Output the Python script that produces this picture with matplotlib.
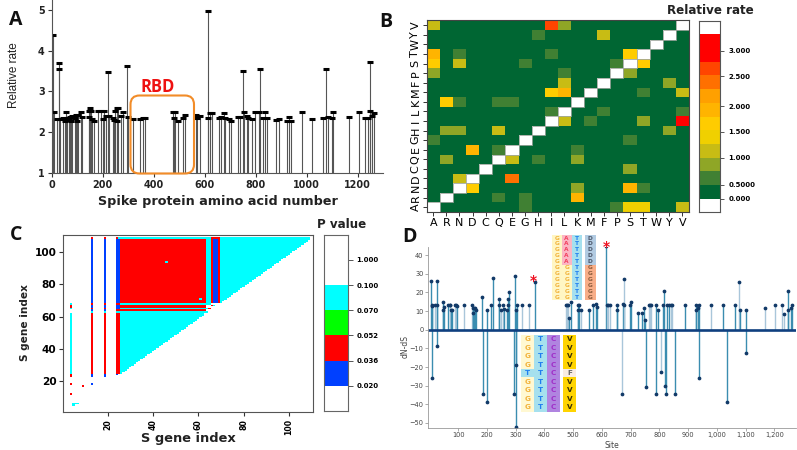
import numpy as np
import matplotlib
matplotlib.use('Agg')
import matplotlib.pyplot as plt
from matplotlib.colors import ListedColormap
from matplotlib.patches import FancyBboxPatch, Rectangle

W, H = 797, 450

# Panel A: site, relative rate
a_sites = [5, 8, 20, 28, 30, 32, 45, 52, 55, 60, 68, 72, 76, 80, 90, 95, 100, 105, 115, 120,
           145, 148, 152, 155, 158, 165, 180, 195, 200, 205, 212, 220, 225, 240, 245, 250, 255, 258, 262, 270,
           278, 296, 300, 320, 345, 358, 368, 475, 480, 485, 495, 515, 525, 565, 572, 580, 612, 614, 620, 630,
           655, 665, 675, 680, 695, 703, 730, 740, 752, 755, 765, 770, 785, 797, 815, 818, 830, 838, 845, 882,
           893, 925, 932, 938, 982, 1020, 1065, 1078, 1085, 1100, 1103, 1167, 1205, 1230, 1240, 1248, 1250, 1258, 1263]
a_rates = [4.38, 2.5, 2.33, 3.55, 3.71, 2.33, 2.35, 2.28, 2.5, 2.35, 2.3, 2.36, 2.28, 2.4, 2.35, 2.42, 2.28, 2.42, 2.5, 2.38,
           2.52, 2.37, 2.6, 2.52, 2.33, 2.28, 2.52, 2.52, 2.33, 2.52, 2.4, 3.49, 2.4, 2.35, 2.3, 2.52, 2.28, 2.6, 2.6, 2.4,
           2.5, 3.62, 2.37, 2.32, 2.33, 2.35, 2.35, 2.5, 2.35, 2.5, 2.28, 2.35, 2.43, 2.43, 2.35, 2.4, 2.35, 4.98, 2.48, 2.48,
           2.35, 2.37, 2.48, 2.35, 2.33, 2.28, 2.36, 2.36, 3.5, 2.5, 2.4, 2.35, 2.32, 2.5, 2.5, 3.54, 2.35, 2.5, 2.35, 2.3,
           2.33, 2.28, 2.38, 2.28, 2.5, 2.33, 2.35, 3.54, 2.37, 2.35, 2.5, 2.38, 2.5, 2.35, 2.35, 2.53, 3.72, 2.4, 2.48]

# Panel B: amino acids and non-background cells (row, column, colour level)
amino = ['A', 'R', 'N', 'D', 'C', 'Q', 'E', 'G', 'H', 'I', 'L', 'K', 'M', 'F', 'P', 'S', 'T', 'W', 'Y', 'V']
b_cells = [(19, 0, 3), (19, 9, 9), (19, 10, 2), (18, 8, 1), (18, 13, 3),
           (16, 0, 6), (16, 2, 1), (16, 9, 1), (16, 15, 5),
           (15, 0, 5), (15, 2, 3), (15, 7, 1), (15, 14, 1), (15, 16, 5),
           (14, 0, 2), (14, 10, 1), (14, 15, 2), (13, 10, 3), (13, 18, 2),
           (12, 9, 5), (12, 10, 6), (12, 16, 1), (12, 19, 3),
           (11, 1, 5), (11, 2, 1), (11, 5, 1), (11, 6, 1),
           (10, 9, 1), (10, 13, 1), (10, 19, 1),
           (9, 10, 3), (9, 12, 1), (9, 16, 2), (9, 19, 10),
           (8, 1, 2), (8, 2, 2), (8, 5, 3), (8, 18, 2),
           (7, 0, 1), (7, 15, 1), (6, 3, 6), (6, 5, 1), (6, 11, 1),
           (5, 1, 2), (5, 6, 3), (5, 8, 1), (5, 11, 2), (4, 15, 2),
           (3, 2, 3), (3, 6, 8), (2, 3, 5), (2, 11, 2), (2, 15, 6), (2, 16, 1),
           (1, 5, 1), (1, 7, 1), (1, 11, 6),
           (0, 7, 1), (0, 14, 1), (0, 15, 4), (0, 16, 4), (0, 19, 3)]
b_colors = ['#006633', '#408033', '#8fa626', '#c8bc14', '#f0d000', '#ffcc00',
            '#ffb400', '#ffa000', '#ff7000', '#ff4500', '#ff0000']
b_bar_levels = [-1, 0, 1, 2, 3, 4, 5, 6, 7, 8, 9, 10, 10, -1]
b_bar_ticks = [1, 2, 4, 5.87, 7.74, 9.93, 11.8]
b_bar_labels = ['0.000', '0.5000', '1.000', '1.500', '2.000', '2.500', '3.000']

# Panel C: blocks of P value classes (x from, x to, y from, y to, class)
# classes: 0 white, 1 blue, 2 red, 3 green, 4 cyan
c_blocks = [(4, 4, 25, 62, 4), (4, 4, 23, 24, 2), (4, 4, 65, 65, 4), (4, 4, 66, 67, 2), (4, 4, 68, 68, 4),
            (4, 4, 18, 18, 2), (4, 4, 12, 12, 2), (5, 5, 5, 6, 4), (6, 7, 6, 6, 4), (9, 9, 17, 17, 2), (13, 13, 18, 18, 1),
            (13, 13, 23, 24, 1), (13, 13, 25, 62, 2), (13, 13, 63, 63, 4), (13, 13, 64, 64, 1), (13, 13, 65, 65, 2),
            (13, 13, 66, 67, 1), (13, 13, 68, 68, 2), (13, 13, 69, 108, 1), (13, 13, 109, 109, 2),
            (19, 19, 23, 24, 1), (19, 19, 25, 62, 2), (19, 19, 63, 63, 4), (19, 19, 64, 64, 1), (19, 19, 65, 65, 2),
            (19, 19, 66, 67, 1), (19, 19, 68, 68, 2), (19, 19, 69, 108, 1), (19, 19, 109, 109, 2),
            (24, 24, 24, 24, 1), (24, 25, 25, 62, 2), (24, 25, 63, 63, 4), (24, 25, 64, 64, 2), (24, 25, 65, 65, 1),
            (24, 25, 66, 67, 1), (24, 25, 68, 68, 2), (24, 25, 69, 108, 1), (24, 24, 109, 109, 2), (25, 25, 109, 109, 4),
            (26, 63, 69, 108, 2), (26, 63, 109, 109, 4), (26, 65, 68, 68, 4), (26, 63, 66, 67, 2), (26, 64, 65, 65, 4),
            (26, 63, 64, 64, 2), (26, 64, 63, 63, 4), (64, 65, 69, 109, 4), (66, 66, 69, 108, 2), (67, 68, 69, 108, 1),
            (69, 69, 69, 108, 2), (66, 69, 109, 109, 2), (65, 65, 65, 65, 2), (66, 66, 67, 67, 2), (67, 67, 67, 67, 4),
            (46, 46, 94, 94, 4), (61, 61, 71, 71, 4)]
# triangles: only cells above the diagonal are filled
c_tris = [(26, 62, 25, 62, 4), (70, 109, 69, 109, 4)]
c_colors = ['#ffffff', '#0040ff', '#ff0000', '#00ff00', '#00ffff']
c_bar_levels = [0, 1, 2, 3, 4, 0, 0]
c_bar_labels = ['0.020', '0.036', '0.052', '0.070', '0.100', '1.000']

# Panel D: dN-dS per site
d_pos_sites = [5, 8, 10, 20, 25, 28, 47, 48, 52, 65, 70, 72, 75, 80, 88, 94, 97, 120, 147, 150, 152, 155, 158, 163,
               183, 200, 214, 222, 242, 243, 250, 255, 259, 270, 272, 273, 276, 297, 300, 306, 322, 347, 366,
               474, 478, 482, 484, 492, 517, 518, 521, 527, 556, 569, 578, 582, 613, 617, 622, 629, 651, 654,
               672, 675, 676, 698, 702, 727, 738, 747, 751, 762, 767, 771, 789, 794, 811, 816, 827, 834, 840, 845,
               890, 926, 927, 933, 938, 978, 1020, 1064, 1076, 1081, 1101, 1166, 1202, 1228, 1234, 1246, 1248, 1256, 1261]
d_pos_vals = [26, 12.5, 13, 13, 26, 13, 10.4, 14.7, 12.4, 13, 13, 13, 10.4, 10.4, 13, 13, 12.5, 13, 13, 11.5, 9, 11.5, 11.5, 10.4,
              17.8, 10.4, 13, 27.6, 16.4, 13, 10.4, 13, 11, 10.4, 16.4, 13, 20.4, 28.8, 10.4, 13, 13, 13, 25.7,
              13, 13, 13, 6.4, 14.7, 13, 10.4, 13, 10.4, 10.4, 13, 13.6, 12.2, 45, 13, 13, 13, 13, 10.4,
              13.6, 13, 27, 13, 14.7, 8.7, 8.7, 11.6, 5.2, 13, 13, 13, 13, 10.4, 13, 21, 13, 13, 13, 13,
              13, 10.4, 13, 11.5, 13, 13, 13, 13, 25.7, 10.4, 10.4, 11.5, 13, 13, 8.6, 10.5, 21, 11.5, 13]
d_neg_sites = [10, 27, 185, 199, 293, 300, 301, 669, 752, 788, 804, 819, 823, 854, 938, 1035, 1102]
d_neg_vals = [-25.7, -8.6, -34.3, -39, -34.3, -52, -18.8, -34.4, -30.5, -34.3, -22.7, -30.2, -34.4, -34.3, -25.7, -39, -12.5]
d_light_sites = [20, 70, 72, 88, 94, 120, 147, 250, 255, 322, 347, 474, 478, 482, 527, 617, 622, 629, 669, 676,
                 762, 767, 771, 804, 840, 845, 978, 1076, 1166, 1202, 1228, 1234]
d_xticks = [100, 200, 300, 400, 500, 600, 700, 800, 900, 1000, 1100, 1200]
d_xlabels = ['100', '200', '300', '400', '500', '600', '700', '800', '900', '1,000', '1,100', '1,200']

# alignment insets in panel D
top_rows = ['GATD'] * 5 + ['GGTG'] * 6
low_rows = ['GTCV'] * 4 + ['TTCF'] + ['GTCV'] * 4
cell_bg = {'G': '#fff6c4', 'A': '#fbb6c4', 'T': '#a6e0ee', 'D': '#b2cbe2', 'C': '#b084e0', 'V': '#ffd400', 'F': '#f9ece2'}
cell_fg = {'G': '#f2b23a', 'A': '#f2405f', 'T': '#1f7ff0', 'D': '#4a5568', 'C': '#a030c8', 'V': '#3a3000', 'F': '#666666'}


def px_axes(left, top, right, bottom):
    return fig.add_axes([left / W, 1 - bottom / H, (right - left) / W, (bottom - top) / H])


plt.rcParams['font.family'] = 'DejaVu Sans'
fig = plt.figure(figsize=(W / 100, H / 100), dpi=100)
dark = '#333333'

# ---- A
ax = px_axes(51.7, 0, 383, 172.7)
ax.vlines(a_sites, 1, a_rates, color='#555555', lw=0.8)
ax.plot(a_sites, a_rates, ls='none', marker='_', ms=4.2, mew=2.2, color='black')
ax.set_xlim(0, 1300)
ax.set_ylim(1, 5.25)
ax.set_xticks(range(0, 1201, 200))
ax.set_yticks(range(1, 6))
ax.tick_params(labelsize=6.9, length=3, width=0.8, pad=2, color=dark, labelcolor='#222222')
for lab in ax.get_xticklabels() + ax.get_yticklabels():
    lab.set_fontweight('bold')
for s in ['top', 'right']:
    ax.spines[s].set_visible(False)
for s in ['left', 'bottom']:
    ax.spines[s].set_color('#555555')

# ---- B
ax = px_axes(426.7, 20.5, 689, 212)
mat = np.zeros((20, 20))
for r, c, lv in b_cells:
    mat[r, c] = lv
np.fill_diagonal(mat, -1)
cmap_b = ListedColormap(['#ffffff'] + b_colors)
ax.pcolormesh(np.arange(21), np.arange(21), mat, cmap=cmap_b, vmin=-1.5, vmax=10.5)
for i in range(20):
    ax.add_patch(Rectangle((i, i), 1, 1, fc='none', ec='#a0a8a0', lw=0.6))
ax.set_xticks(np.arange(20) + 0.5)
ax.set_xticklabels(amino)
ax.set_yticks(np.arange(20) + 0.5)
ax.set_yticklabels(amino, rotation=90, va='center')
ax.tick_params(labelsize=8, length=3, width=0.7, pad=1.5, color=dark)
for s in ax.spines.values():
    s.set_color('#444444')

ax = px_axes(699, 20.7, 720.3, 212.3)
ax.pcolormesh([0, 1], np.arange(15), np.array(b_bar_levels).reshape(-1, 1), cmap=cmap_b, vmin=-1.5, vmax=10.5)
ax.set_xticks([])
ax.yaxis.tick_right()
ax.set_yticks(b_bar_ticks)
ax.set_yticklabels(b_bar_labels, fontsize=5, fontweight='bold')
ax.tick_params(length=3, width=0.7, pad=3, color='#555555')
for s in ax.spines.values():
    s.set_color('#555555')

# ---- C
ax = px_axes(63.3, 234.7, 312.7, 412.3)
grid = np.zeros((111, 111))
for x0, x1, y0, y1, lv in c_tris:
    for x in range(x0, x1 + 1):
        for y in range(y0, y1 + 1):
            if y >= x - 1:
                grid[y, x] = lv
for x0, x1, y0, y1, lv in c_blocks:
    grid[y0:y1 + 1, x0:x1 + 1] = lv
cmap_c = ListedColormap(c_colors)
edges = np.arange(112) - 0.5
ax.pcolormesh(edges, edges, grid, cmap=cmap_c, vmin=-0.5, vmax=4.5)
ax.set_xlim(0.45, 110.5)
ax.set_ylim(0.55, 110.9)
ax.set_xticks(range(20, 101, 20))
ax.set_yticks(range(20, 101, 20))
ax.tick_params(axis='y', labelsize=7.6, length=3, width=0.8, pad=2, color=dark)
ax.tick_params(axis='x', labelsize=5.6, length=3, width=0.8, pad=2, color=dark)
for lab in ax.get_xticklabels():
    lab.set_rotation(90)
    lab.set_fontweight('bold')
for lab in ax.get_yticklabels():
    lab.set_fontweight('bold')
for s in ax.spines.values():
    s.set_color('#555555')

ax = px_axes(324.3, 234.7, 348, 411)
ax.pcolormesh([0, 1], np.arange(8), np.array(c_bar_levels).reshape(-1, 1), cmap=cmap_c, vmin=-0.5, vmax=4.5)
ax.set_xticks([])
ax.yaxis.tick_right()
ax.set_yticks(range(1, 7))
ax.set_yticklabels(c_bar_labels, fontsize=5, fontweight='bold')
ax.tick_params(length=3.6, width=0.7, pad=2.5, color='#555555')
for s in ax.spines.values():
    s.set_color('#666666')

# ---- D
ax = px_axes(428, 246.7, 796, 428)
for sites, vals in [(d_pos_sites, d_pos_vals), (d_neg_sites, d_neg_vals)]:
    cols = ['#a9c6da' if s in d_light_sites else '#3b8db0' for s in sites]
    ax.vlines(sites, 0, vals, color=cols, lw=1.0)
    ax.plot(sites, vals, ls='none', marker='o', ms=1.7, color='#123a68')
ax.axhline(0, color='#0f3f7f', lw=1.9)
ax.set_xlim(-5, 1275)
ax.set_ylim(-52.7, 44.5)
ax.set_xticks(d_xticks)
ax.set_xticklabels(d_xlabels)
ax.set_yticks(range(-50, 41, 10))
ax.tick_params(labelsize=4.8, length=2, width=0.5, pad=1.2, color='#888888', labelcolor='#444444')
ax.set_xlabel('Site', fontsize=5.5, color='#444444', labelpad=2)
ax.set_ylabel('dN-dS', fontsize=5.5, color='#444444')
ax.yaxis.set_label_coords(-0.049, 0.45)
for s in ['top', 'right']:
    ax.spines[s].set_visible(False)
for s in ['left', 'bottom']:
    ax.spines[s].set_color('#999999')
    ax.spines[s].set_linewidth(0.6)

# ---- overlay for labels, RBD box and the alignment insets (pixel coordinates)
ov = fig.add_axes([0, 0, 1, 1], facecolor='none')
ov.set_xlim(0, W)
ov.set_ylim(H, 0)
ov.axis('off')

for letter, x, y in [('A', 16, 20), ('B', 386, 22), ('C', 16, 235), ('D', 410, 237)]:
    ov.text(x, y, letter, fontsize=14, fontweight='bold', family='Open Sans', ha='center', va='center', color='#111111')

ov.add_patch(FancyBboxPatch((136, 101), 52.5, 67, boxstyle='round,pad=5.5,rounding_size=9', fc='none', ec='#f28c28', lw=1.5))
ov.text(158, 87, 'RBD', fontsize=12, fontweight='bold', family='Open Sans', color='#ee1111', ha='center', va='center')

ov.text(14, 75, 'Relative rate', fontsize=8.5, family='Liberation Sans', rotation=90, ha='center', va='center', color='#222222')
ov.text(218, 201, 'Spike protein amino acid number', fontsize=9.2, fontweight='bold', ha='center', va='center', color='#222222')
ov.text(710, 10, 'Relative rate', fontsize=8.6, fontweight='bold', ha='center', va='center', color='#222222')
ov.text(342, 225, 'P value', fontsize=8.6, fontweight='bold', ha='center', va='center', color='#222222')
ov.text(188, 438.5, 'S gene index', fontsize=9.4, fontweight='bold', ha='center', va='center', color='#222222')
ov.text(25, 323, 'S gene index', fontsize=7.6, fontweight='bold', rotation=90, ha='center', va='center', color='#222222')

top_x = [551.7, 561.7, 571.7, 585]
top_w = [10, 10, 10.6, 10.7]
for i, row in enumerate(top_rows):
    y = 235 + i * 65 / len(top_rows)
    for j, ch in enumerate(row):
        bg = cell_bg[ch]
        fg = cell_fg[ch]
        if j == 3 and ch == 'G':
            bg = '#f8ae88'
            fg = '#8a5a3a'
        ov.add_patch(Rectangle((top_x[j], y), top_w[j], 65 / len(top_rows), fc=bg, ec='none'))
        ov.text(top_x[j] + top_w[j] / 2, y + 3, ch, fontsize=4.2, color=fg, ha='center', va='center', fontweight='bold')

low_x = [521, 534, 547, 562.7]
low_w = [13, 13, 13, 13.3]
for i, row in enumerate(low_rows):
    y = 334.7 + i * 77 / len(low_rows)
    for j, ch in enumerate(row):
        bg = '#fff8d2' if ch == 'G' else cell_bg[ch]
        ov.add_patch(Rectangle((low_x[j], y), low_w[j], 77 / len(low_rows), fc=bg, ec='none'))
        ov.text(low_x[j] + low_w[j] / 2, y + 4.3, ch, fontsize=5.2, color=cell_fg[ch], ha='center', va='center', fontweight='bold')

ov.text(533, 281, '*', fontsize=10, color='#ee1122', fontweight='bold', ha='center', va='center')
ov.text(606.3, 246.5, '*', fontsize=10, color='#ee1122', fontweight='bold', ha='center', va='center')

fig.savefig('out.png', dpi=100)
